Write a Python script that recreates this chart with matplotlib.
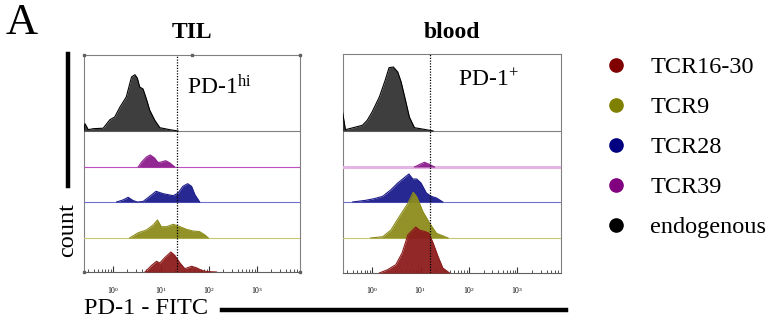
import numpy as np
import matplotlib
matplotlib.use("Agg")
import matplotlib.pyplot as plt
from matplotlib.lines import Line2D
from matplotlib.ticker import LogLocator, FixedLocator

plt.rcParams['font.family'] = ['Liberation Serif', 'DejaVu Serif']
plt.rcParams['mathtext.fontset'] = 'custom'
plt.rcParams['mathtext.rm'] = 'Liberation Serif'
plt.rcParams['mathtext.it'] = 'Liberation Serif:italic'

# Histogram outlines: x in log10(PD-1 FITC), y = height (px) above row baseline
# TIL panel
til_black_x = [-0.60, -0.58, -0.51, -0.41, -0.20, -0.06, 0.04, 0.15, 0.28, 0.39, 0.46, 0.51, 0.56, 0.63, 0.70, 0.77, 0.875, 0.98, 1.19, 1.36]
til_black_y = [0, 7.3, 1.3, 2.3, 2.8, 11.3, 14, 24, 34, 54, 56.3, 53, 44, 42, 32, 20.7, 10.7, 3.3, 1.3, 0]
til_purple_x = [0.53, 0.60, 0.70, 0.78, 0.87, 0.94, 1.01, 1.10, 1.19, 1.29]
til_purple_y = [0, 5, 10, 12, 9, 4.5, 5, 6.3, 4, 0]
til_blue_x = [0.08, 0.21, 0.32, 0.42, 0.51, 0.63, 0.77, 0.90, 1.05, 1.26, 1.36, 1.46, 1.56, 1.64, 1.71, 1.81]
til_blue_y = [0, 2, 4.7, 1.5, 0, 0.5, 5.7, 10.7, 8.3, 6.3, 9, 15.7, 18.3, 15.7, 7.3, 0]
til_olive_x = [0.35, 0.53, 0.70, 0.84, 0.93, 1.01, 1.12, 1.26, 1.40, 1.53, 1.67, 1.81, 1.92, 1.99]
til_olive_y = [0, 5.3, 8, 13, 18, 11.3, 11.3, 13.7, 11.3, 8.7, 7, 6.3, 3, 0]
til_red_x = [0.67, 0.81, 0.91, 0.98, 1.08, 1.21, 1.29, 1.40, 1.50, 1.64, 1.74, 1.85, 1.95, 2.16]
til_red_y = [0, 6.7, 10.7, 9, 14.3, 20, 16.7, 9, 3.3, 5.7, 4.3, 1.7, 0.5, 0]

# blood panel
bl_black_x = [-0.62, -0.61, -0.55, -0.20, -0.10, 0.0, 0.15, 0.27, 0.35, 0.44, 0.53, 0.60, 0.69, 0.77, 0.875, 1.12, 1.26]
bl_black_y = [0, 19, 1.3, 5.7, 10.7, 19, 34, 50.7, 63.3, 64, 59, 49, 30.7, 14, 3.3, 1.3, 0]
bl_purple_x = [0.875, 0.98, 1.08, 1.19, 1.29]
bl_purple_y = [0, 2.5, 4.7, 2.5, 0]
bl_blue_x = [-0.40, -0.13, 0.04, 0.22, 0.39, 0.53, 0.76, 0.84, 0.92, 1.01, 1.12, 1.22, 1.33, 1.46]
bl_blue_y = [0, 1.7, 3.3, 5.7, 12.3, 19, 28, 23, 23, 19, 9, 5.7, 4, 0]
bl_olive_x = [-0.03, 0.22, 0.39, 0.56, 0.74, 0.85, 0.92, 1.05, 1.19, 1.33, 1.57]
bl_olive_y = [0, 1.3, 8, 21.3, 34.7, 45.7, 41.3, 26.3, 14.7, 4.7, 0]
bl_red_x = [0.15, 0.32, 0.49, 0.62, 0.74, 0.90, 0.99, 1.08, 1.17, 1.26, 1.36, 1.46, 1.60]
bl_red_y = [0, 3.3, 8.3, 20, 38.3, 46, 42.7, 41.7, 40, 30, 16.7, 5, 0]

gates = [22, 16]
gate_labels = ['PD-1$^{\\mathrm{hi}}$', 'PD-1$^{+}$']
titles = ['TIL', 'blood']
legend_labels = ['TCR16-30', 'TCR9', 'TCR28', 'TCR39', 'endogenous']

fill_cols = ['#8c1c1c', '#8c8c1c', '#1c1c8c', '#8c1c8c', '#333333']
base_cols = ['#e8a0a0', '#c8c870', '#7070d0', '#c050c0', '#808080']
dot_cols = ['#800000', '#808000', '#000080', '#800080', '#000000']

fig = plt.figure(figsize=(7.72, 3.26), dpi=100)
W, H = 772, 326

panels = [
    (84, 300, 55, 272, [0, 34, 70, 105, 141],
     [(til_red_x, til_red_y), (til_olive_x, til_olive_y), (til_blue_x, til_blue_y),
      (til_purple_x, til_purple_y), (til_black_x, til_black_y)]),
    (343, 561, 54, 273, [0, 35, 71, 106, 142],
     [(bl_red_x, bl_red_y), (bl_olive_x, bl_olive_y), (bl_blue_x, bl_blue_y),
      (bl_purple_x, bl_purple_y), (bl_black_x, bl_black_y)]),
]
label_pos = [(0.477, 0.853), (0.527, 0.88)]

for i, (x0, x1, y0, y1, bases, curves) in enumerate(panels):
    ax = fig.add_axes([x0 / W, 1 - y1 / H, (x1 - x0) / W, (y1 - y0) / H])
    ax.set_xscale('log')
    ax.set_xlim(10 ** -0.6, 10 ** 3.9)
    ax.set_ylim(0, y1 - y0)
    for k, (cx, cy) in enumerate(curves):
        xs = 10 ** np.array(cx)
        ys = bases[k] + np.array(cy)
        z = 10 - k
        ax.fill_between(xs, bases[k], ys, color=fill_cols[k], alpha=0.95, lw=0, zorder=z)
        ax.plot(xs, ys, color=fill_cols[k] if k < 4 else 'black', lw=0.8, zorder=z + 0.1)
        lw = 2.2 if (i == 1 and k == 3) else 0.8
        bc = '#e4b4e4' if (i == 1 and k == 3) else base_cols[k]
        if k > 0:
            ax.axhline(bases[k], color=bc, lw=lw, zorder=z - 0.5)
    ax.axvline(gates[i], color='black', ls=(0, (1, 1.2)), lw=0.9, zorder=20)
    ax.text(label_pos[i][0], label_pos[i][1], gate_labels[i], transform=ax.transAxes,
            fontsize=17, ha='left', va='center')
    for s in ['left', 'right', 'top']:
        ax.spines[s].set_color('#808080')
        ax.spines[s].set_linewidth(0.8)
    ax.spines['bottom'].set_color('#606060')
    ax.spines['bottom'].set_linewidth(0.8)
    ax.set_yticks([])
    ax.xaxis.set_major_locator(FixedLocator([1, 10, 100, 1000]))
    ax.xaxis.set_minor_locator(LogLocator(base=10, subs=np.arange(2, 10)))
    ax.tick_params(axis='x', which='major', direction='in', length=4, width=0.8,
                   labelsize=5.5, pad=9, color='#333333')
    ax.tick_params(axis='x', which='minor', direction='in', length=2, width=0.6, color='#333333')
    ax.set_xticklabels(['$10^{0}$', '$10^{1}$', '$10^{2}$', '$10^{3}$'])
    if i == 0:
        ax.plot([0, 0.5, 1, 0, 1], [1, 1, 1, 0, 0], 's', ms=2, color='#606060',
                transform=ax.transAxes, clip_on=False, zorder=30)
    fig.text((x0 + x1) / 2 / W, 1 - 33 / H, titles[i], ha='center', va='center',
             fontsize=17, fontweight='bold')

fig.text(6 / W, 1 - 23 / H, 'A', fontsize=32, ha='left', va='center')

# scale bars and axis names
fig.add_artist(Line2D([68 / W, 68 / W], [1 - 54 / H, 1 - 186 / H], color='black', lw=3.2))
fig.text(68 / W, 1 - 230 / H, 'count', rotation=90, fontsize=17.5, ha='center', va='center')
fig.add_artist(Line2D([222 / W, 566 / W], [1 - 310 / H, 1 - 310 / H], color='black', lw=3.2))
fig.text(84 / W, 1 - 309 / H, 'PD-1 - FITC', fontsize=17.5, ha='left', va='center')

handles = [Line2D([], [], ls='none', marker='o', ms=9.5, color=c) for c in dot_cols]
fig.legend(handles, legend_labels, loc='center left', bbox_to_anchor=(604 / W, 1 - 147 / H),
           frameon=False, fontsize=17.5, labelspacing=0.74, handlelength=1.0,
           handletextpad=0.9, borderpad=0, borderaxespad=0)

fig.savefig('out.png', dpi=100)
